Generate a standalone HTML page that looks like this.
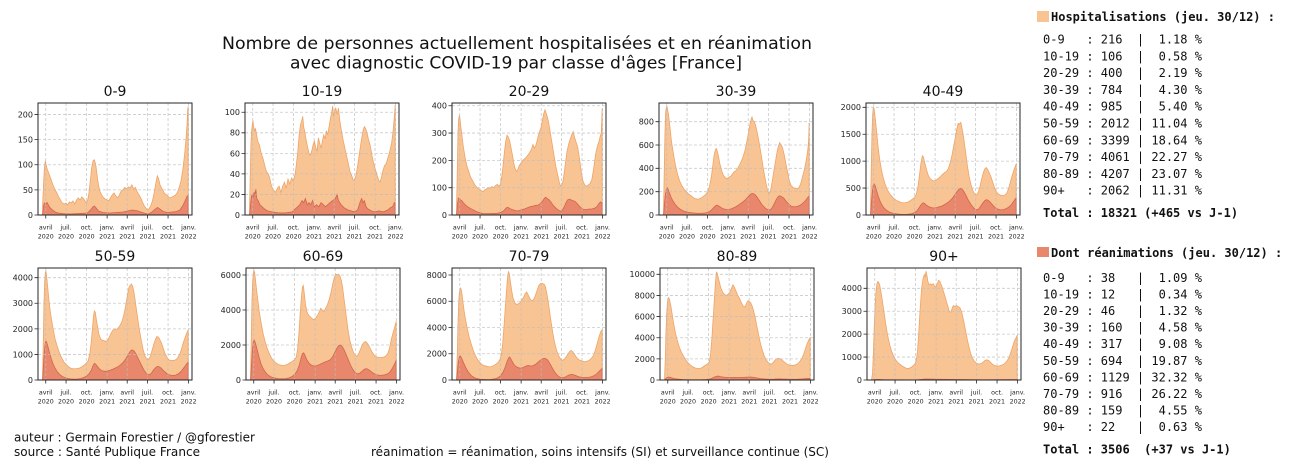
<!DOCTYPE html>
<html><head><meta charset="utf-8">
<style>
html,body{margin:0;padding:0;background:#fff;}
svg{display:block}
.h{fill:#f9c494;stroke:#eea466;stroke-width:0.8}
.r{fill:#e8876b;stroke:#d2654b;stroke-width:0.8}
.g{fill:none;stroke:#bdbdbd;stroke-width:0.8;stroke-dasharray:3 2;opacity:0.8}
.f{fill:none;stroke:#262626;stroke-width:1}
.t{fill:none;stroke:#262626;stroke-width:0.8}
.yl{font-family:"DejaVu Sans","Liberation Sans",sans-serif;font-size:8px;text-anchor:end;fill:#222}
.xl{font-family:"DejaVu Sans","Liberation Sans",sans-serif;font-size:6.3px;text-anchor:middle;fill:#222}
.pt{font-family:"DejaVu Sans","Liberation Sans",sans-serif;font-size:14px;text-anchor:middle;fill:#111}
.ti{font-family:"DejaVu Sans","Liberation Sans",sans-serif;font-size:17px;text-anchor:middle;fill:#111}
.ft{font-family:"DejaVu Sans","Liberation Sans",sans-serif;font-size:12px;fill:#111}
.m{font-family:"DejaVu Sans Mono","Liberation Mono",monospace;font-size:12px;fill:#111;white-space:pre}
.mb{font-family:"DejaVu Sans Mono","Liberation Mono",monospace;font-size:12px;font-weight:bold;fill:#111;white-space:pre}
</style></head>
<body>
<svg width="1291" height="467" viewBox="0 0 1291 467" xmlns="http://www.w3.org/2000/svg">
<rect width="1291" height="467" fill="#fff"/>

<text class="ti" x="517" y="49" textLength="590" lengthAdjust="spacingAndGlyphs">Nombre de personnes actuellement hospitalisées et en réanimation</text>
<text class="ti" x="516" y="68.5" textLength="452" lengthAdjust="spacingAndGlyphs">avec diagnostic COVID-19 par classe d'âges [France]</text>

<!-- 0-9 -->
<g transform="translate(38,103)">
<text class="pt" x="77" y="-7">0-9</text>
<g transform="translate(4.62,112) scale(0.2232,-0.50224)">
<path class="h" vector-effect="non-scaling-stroke" d="M0,0 L0,20 4,60 8,95 12,108 16,100 20,92 26,85 32,78 40,68 48,58 56,50 64,44 72,36 80,30 88,24 96,22 105,24 112,20 120,26 128,24 136,28 144,22 152,30 160,34 168,30 176,36 184,32 190,28 196,24 202,30 208,45 214,70 220,95 226,108 232,110 238,100 244,80 250,60 256,48 264,40 272,35 280,32 289,30 296,28 304,34 312,40 320,44 328,38 336,34 344,40 352,48 360,50 368,55 376,52 384,56 392,54 400,60 408,52 416,55 424,46 432,40 440,34 448,25 456,18 464,13 470,10 476,12 484,18 492,28 500,45 508,65 514,78 520,72 526,60 532,55 540,48 548,42 556,40 564,36 572,34 580,36 588,38 596,40 604,45 612,55 620,68 628,90 636,120 642,150 647,180 650,210 652,216 652,0Z"/>
<path class="r" vector-effect="non-scaling-stroke" d="M0,0 L0,2 4,18 8,24 14,22 20,25 26,20 34,14 44,10 56,6 70,4 90,3 120,2 160,3 200,4 215,10 225,16 232,18 240,14 250,8 270,5 300,4 330,5 360,6 380,8 400,10 420,9 440,6 460,3 475,2 490,6 505,12 515,15 525,12 540,7 560,5 580,6 600,7 615,10 630,20 640,30 648,38 652,38 652,0Z"/>
</g>
<path class="g" d="M7.75 0V112M28.06 0V112M48.59 0V112M69.13 0V112M89.21 0V112M109.52 0V112M130.06 0V112M150.59 0V112M0 86.89H154M0 61.78H154M0 36.66H154M0 11.55H154"/>
<rect class="f" x="0" y="0" width="154" height="112"/>
<path class="t" d="M7.75 112v3.5M28.06 112v3.5M48.59 112v3.5M69.13 112v3.5M89.21 112v3.5M109.52 112v3.5M130.06 112v3.5M150.59 112v3.5M0 112h-3.5M0 86.89h-3.5M0 61.78h-3.5M0 36.66h-3.5M0 11.55h-3.5"/>
<text class="yl" x="-5" y="114.9">0</text><text class="yl" x="-5" y="89.8">50</text><text class="yl" x="-5" y="64.7">100</text><text class="yl" x="-5" y="39.6">150</text><text class="yl" x="-5" y="14.5">200</text>
<text class="xl"><tspan x="7.75" y="126.5">avril</tspan><tspan x="7.75" y="135.5">2020</tspan><tspan x="28.06" y="126.5">juil.</tspan><tspan x="28.06" y="135.5">2020</tspan><tspan x="48.59" y="126.5">oct.</tspan><tspan x="48.59" y="135.5">2020</tspan><tspan x="69.13" y="126.5">janv.</tspan><tspan x="69.13" y="135.5">2021</tspan><tspan x="89.21" y="126.5">avril</tspan><tspan x="89.21" y="135.5">2021</tspan><tspan x="109.52" y="126.5">juil.</tspan><tspan x="109.52" y="135.5">2021</tspan><tspan x="130.06" y="126.5">oct.</tspan><tspan x="130.06" y="135.5">2021</tspan><tspan x="150.59" y="126.5">janv.</tspan><tspan x="150.59" y="135.5">2022</tspan></text>
</g>

<!-- 10-19 -->
<g transform="translate(245,103)">
<text class="pt" x="77" y="-7">10-19</text>
<g transform="translate(4.62,112) scale(0.2232,-1.02752)">
<path class="h" vector-effect="non-scaling-stroke" d="M0,0 L0,10 3,40 6,70 9,82 12,88 15,92 18,86 22,82 26,84 30,80 36,72 44,68 52,60 60,55 68,48 76,42 84,40 90,36 96,30 102,26 108,24 116,22 124,26 132,28 140,22 148,28 156,32 164,26 172,35 180,30 188,36 196,33 204,40 210,50 216,62 222,78 228,88 234,92 238,96 242,86 248,80 254,72 260,66 266,60 272,58 278,62 284,68 290,72 296,66 302,62 308,75 314,70 320,65 326,72 332,78 338,74 344,82 350,78 356,86 362,94 368,100 372,106 376,96 380,100 386,104 392,98 398,104 404,92 410,84 418,74 426,66 434,58 442,50 450,42 458,38 464,34 470,34 476,38 484,48 492,60 500,72 508,82 514,86 520,84 526,80 532,74 540,68 548,58 556,50 564,44 572,38 578,34 584,32 590,36 596,42 604,48 612,50 620,56 628,62 636,70 642,80 647,92 650,100 652,107 652,0Z"/>
<path class="r" vector-effect="non-scaling-stroke" d="M0,0 L0,1 4,10 8,18 12,20 16,18 20,22 24,20 28,25 32,16 38,14 46,10 56,8 66,6 80,4 100,3 130,2 160,2 190,3 205,6 215,8 225,10 235,14 242,12 250,16 258,10 266,12 274,10 282,14 290,8 300,10 310,8 320,12 330,10 340,8 350,10 360,12 372,14 384,16 392,20 398,14 410,10 424,7 440,5 456,4 470,3 484,5 494,12 502,16 508,12 514,14 522,8 530,6 545,4 560,3 580,4 600,3 620,5 630,7 640,8 645,10 648,12 652,12 652,0Z"/>
</g>
<path class="g" d="M7.75 0V112M28.06 0V112M48.59 0V112M69.13 0V112M89.21 0V112M109.52 0V112M130.06 0V112M150.59 0V112M0 91.45H154M0 70.9H154M0 50.35H154M0 29.8H154M0 9.25H154"/>
<rect class="f" x="0" y="0" width="154" height="112"/>
<path class="t" d="M7.75 112v3.5M28.06 112v3.5M48.59 112v3.5M69.13 112v3.5M89.21 112v3.5M109.52 112v3.5M130.06 112v3.5M150.59 112v3.5M0 112h-3.5M0 91.45h-3.5M0 70.9h-3.5M0 50.35h-3.5M0 29.8h-3.5M0 9.25h-3.5"/>
<text class="yl" x="-5" y="114.9">0</text><text class="yl" x="-5" y="94.35">20</text><text class="yl" x="-5" y="73.8">40</text><text class="yl" x="-5" y="53.25">60</text><text class="yl" x="-5" y="32.7">80</text><text class="yl" x="-5" y="12.15">100</text>
<text class="xl"><tspan x="7.75" y="126.5">avril</tspan><tspan x="7.75" y="135.5">2020</tspan><tspan x="28.06" y="126.5">juil.</tspan><tspan x="28.06" y="135.5">2020</tspan><tspan x="48.59" y="126.5">oct.</tspan><tspan x="48.59" y="135.5">2020</tspan><tspan x="69.13" y="126.5">janv.</tspan><tspan x="69.13" y="135.5">2021</tspan><tspan x="89.21" y="126.5">avril</tspan><tspan x="89.21" y="135.5">2021</tspan><tspan x="109.52" y="126.5">juil.</tspan><tspan x="109.52" y="135.5">2021</tspan><tspan x="130.06" y="126.5">oct.</tspan><tspan x="130.06" y="135.5">2021</tspan><tspan x="150.59" y="126.5">janv.</tspan><tspan x="150.59" y="135.5">2022</tspan></text>
</g>

<!-- 20-29 -->
<g transform="translate(452,103)">
<text class="pt" x="77" y="-7">20-29</text>
<g transform="translate(4.62,112) scale(0.2232,-0.27317)">
<path class="h" vector-effect="non-scaling-stroke" d="M0,0 L0,40 3,160 6,300 9,350 12,365 15,355 18,330 24,290 30,250 38,210 46,180 54,160 62,140 72,125 82,110 92,100 100,95 110,90 118,85 126,92 134,95 142,100 150,98 158,104 166,100 174,108 182,112 190,106 196,112 202,140 208,180 214,230 220,270 226,292 232,285 238,270 244,245 250,220 256,190 262,170 268,160 274,165 280,180 288,190 296,200 304,205 312,212 320,220 328,230 336,242 342,258 348,245 354,252 360,270 366,290 372,305 378,320 384,345 390,370 396,385 400,375 406,360 412,340 420,300 428,260 436,220 444,180 452,150 460,120 466,105 472,110 478,130 486,180 494,230 502,260 510,280 516,295 522,305 528,285 534,270 542,250 550,210 558,160 566,125 574,110 582,105 590,110 598,115 606,130 614,170 622,220 630,250 638,270 644,290 648,300 650,340 652,390 652,0Z"/>
<path class="r" vector-effect="non-scaling-stroke" d="M0,0 L0,5 4,40 8,62 12,60 18,55 24,52 30,45 40,36 50,30 62,24 76,18 90,12 105,8 120,5 140,5 160,6 180,6 200,10 212,16 222,26 230,28 238,24 248,20 258,18 268,15 280,16 292,20 304,22 316,26 328,30 340,32 352,35 364,36 376,42 386,52 394,62 400,65 406,60 414,56 422,48 432,36 444,26 456,18 466,14 474,18 482,30 490,45 498,56 506,58 514,55 522,52 530,50 540,42 550,32 560,25 570,20 582,20 594,22 606,22 618,25 628,30 636,40 644,48 648,45 652,46 652,0Z"/>
</g>
<path class="g" d="M7.75 0V112M28.06 0V112M48.59 0V112M69.13 0V112M89.21 0V112M109.52 0V112M130.06 0V112M150.59 0V112M0 84.68H154M0 57.37H154M0 30.05H154M0 2.73H154"/>
<rect class="f" x="0" y="0" width="154" height="112"/>
<path class="t" d="M7.75 112v3.5M28.06 112v3.5M48.59 112v3.5M69.13 112v3.5M89.21 112v3.5M109.52 112v3.5M130.06 112v3.5M150.59 112v3.5M0 112h-3.5M0 84.68h-3.5M0 57.37h-3.5M0 30.05h-3.5M0 2.73h-3.5"/>
<text class="yl" x="-5" y="114.9">0</text><text class="yl" x="-5" y="87.6">100</text><text class="yl" x="-5" y="60.3">200</text><text class="yl" x="-5" y="33">300</text><text class="yl" x="-5" y="5.6">400</text>
<text class="xl"><tspan x="7.75" y="126.5">avril</tspan><tspan x="7.75" y="135.5">2020</tspan><tspan x="28.06" y="126.5">juil.</tspan><tspan x="28.06" y="135.5">2020</tspan><tspan x="48.59" y="126.5">oct.</tspan><tspan x="48.59" y="135.5">2020</tspan><tspan x="69.13" y="126.5">janv.</tspan><tspan x="69.13" y="135.5">2021</tspan><tspan x="89.21" y="126.5">avril</tspan><tspan x="89.21" y="135.5">2021</tspan><tspan x="109.52" y="126.5">juil.</tspan><tspan x="109.52" y="135.5">2021</tspan><tspan x="130.06" y="126.5">oct.</tspan><tspan x="130.06" y="135.5">2021</tspan><tspan x="150.59" y="126.5">janv.</tspan><tspan x="150.59" y="135.5">2022</tspan></text>
</g>

<!-- 30-39 -->
<g transform="translate(659,103)">
<text class="pt" x="77" y="-7">30-39</text>
<g transform="translate(4.62,112) scale(0.2232,-0.116667)">
<path class="h" vector-effect="non-scaling-stroke" d="M0,0 L0,80 3,400 6,700 9,880 12,920 15,930 18,900 22,860 28,760 34,650 40,570 48,480 56,400 64,340 72,290 82,250 92,220 102,200 112,180 122,165 132,150 142,140 152,135 162,140 172,150 182,165 190,180 198,200 206,250 214,330 220,420 226,510 232,560 236,570 240,550 246,500 252,440 260,380 268,340 276,320 284,310 292,325 300,330 308,350 316,370 324,380 332,400 340,430 348,460 356,500 364,550 372,620 380,700 386,770 392,820 396,840 400,810 406,800 412,770 420,700 428,620 436,530 444,430 452,340 460,260 466,210 472,185 478,200 486,280 494,380 502,470 510,560 516,600 520,620 526,600 532,580 540,520 548,440 556,360 564,290 572,250 580,235 590,230 600,225 608,240 616,280 624,340 632,400 640,480 646,560 650,650 652,790 652,0Z"/>
<path class="r" vector-effect="non-scaling-stroke" d="M0,0 L0,10 4,100 8,180 12,220 16,235 20,220 26,190 34,150 42,120 52,90 64,65 78,45 92,32 110,22 130,18 150,15 170,15 190,18 205,28 215,45 225,65 233,80 240,85 248,75 258,62 270,52 282,46 294,48 306,55 318,65 330,78 342,95 354,110 366,130 378,155 388,175 396,185 404,182 412,170 420,150 430,120 440,90 452,65 464,48 474,42 484,55 494,90 504,130 512,155 520,165 528,158 538,145 548,120 560,95 572,75 584,70 596,72 608,80 620,95 632,115 642,140 648,155 652,160 652,0Z"/>
</g>
<path class="g" d="M7.75 0V112M28.06 0V112M48.59 0V112M69.13 0V112M89.21 0V112M109.52 0V112M130.06 0V112M150.59 0V112M0 88.67H154M0 65.33H154M0 42H154M0 18.67H154"/>
<rect class="f" x="0" y="0" width="154" height="112"/>
<path class="t" d="M7.75 112v3.5M28.06 112v3.5M48.59 112v3.5M69.13 112v3.5M89.21 112v3.5M109.52 112v3.5M130.06 112v3.5M150.59 112v3.5M0 112h-3.5M0 88.67h-3.5M0 65.33h-3.5M0 42h-3.5M0 18.67h-3.5"/>
<text class="yl" x="-5" y="114.9">0</text><text class="yl" x="-5" y="91.6">200</text><text class="yl" x="-5" y="68.2">400</text><text class="yl" x="-5" y="44.9">600</text><text class="yl" x="-5" y="21.6">800</text>
<text class="xl"><tspan x="7.75" y="126.5">avril</tspan><tspan x="7.75" y="135.5">2020</tspan><tspan x="28.06" y="126.5">juil.</tspan><tspan x="28.06" y="135.5">2020</tspan><tspan x="48.59" y="126.5">oct.</tspan><tspan x="48.59" y="135.5">2020</tspan><tspan x="69.13" y="126.5">janv.</tspan><tspan x="69.13" y="135.5">2021</tspan><tspan x="89.21" y="126.5">avril</tspan><tspan x="89.21" y="135.5">2021</tspan><tspan x="109.52" y="126.5">juil.</tspan><tspan x="109.52" y="135.5">2021</tspan><tspan x="130.06" y="126.5">oct.</tspan><tspan x="130.06" y="135.5">2021</tspan><tspan x="150.59" y="126.5">janv.</tspan><tspan x="150.59" y="135.5">2022</tspan></text>
</g>

<!-- 40-49 -->
<g transform="translate(866,103)">
<text class="pt" x="77" y="-7">40-49</text>
<g transform="translate(4.62,112) scale(0.2232,-0.053846)">
<path class="h" vector-effect="non-scaling-stroke" d="M0,0 L0,200 3,900 6,1500 9,1850 12,2000 15,1980 18,1900 22,1750 28,1500 34,1250 40,1050 48,850 56,700 66,560 76,460 86,390 96,340 106,300 116,270 126,250 136,235 146,225 156,230 166,240 176,260 186,290 196,320 204,380 212,520 220,780 226,980 232,1100 236,1080 242,980 250,850 258,740 266,680 274,650 284,630 294,650 304,680 314,720 324,760 332,790 340,810 348,860 356,960 364,1100 372,1280 380,1450 386,1600 392,1700 398,1690 404,1720 410,1600 418,1400 426,1150 434,900 442,700 450,560 458,450 466,390 474,370 482,420 490,530 498,680 506,800 512,860 518,880 524,850 532,780 540,700 548,600 556,500 564,430 572,390 582,370 592,360 602,370 612,420 620,520 628,640 636,760 644,860 648,900 652,950 652,0Z"/>
<path class="r" vector-effect="non-scaling-stroke" d="M0,0 L0,30 4,250 8,450 12,560 16,580 20,550 26,460 34,350 44,240 56,150 70,90 86,50 102,30 120,18 140,12 160,12 180,20 196,40 208,80 218,140 226,190 234,225 240,220 248,190 258,160 270,140 282,130 294,135 306,150 318,165 330,190 342,220 354,260 366,310 378,380 388,440 396,480 404,495 412,470 420,420 430,340 440,260 452,180 464,120 474,95 484,110 494,170 504,230 512,270 520,285 528,270 538,230 548,180 560,130 572,105 584,95 596,100 608,120 620,150 632,200 642,260 648,300 652,317 652,0Z"/>
</g>
<path class="g" d="M7.75 0V112M28.06 0V112M48.59 0V112M69.13 0V112M89.21 0V112M109.52 0V112M130.06 0V112M150.59 0V112M0 85.08H154M0 58.15H154M0 31.23H154M0 4.31H154"/>
<rect class="f" x="0" y="0" width="154" height="112"/>
<path class="t" d="M7.75 112v3.5M28.06 112v3.5M48.59 112v3.5M69.13 112v3.5M89.21 112v3.5M109.52 112v3.5M130.06 112v3.5M150.59 112v3.5M0 112h-3.5M0 85.08h-3.5M0 58.15h-3.5M0 31.23h-3.5M0 4.31h-3.5"/>
<text class="yl" x="-5" y="114.9">0</text><text class="yl" x="-5" y="88">500</text><text class="yl" x="-5" y="61">1000</text><text class="yl" x="-5" y="34.1">1500</text><text class="yl" x="-5" y="7.2">2000</text>
<text class="xl"><tspan x="7.75" y="126.5">avril</tspan><tspan x="7.75" y="135.5">2020</tspan><tspan x="28.06" y="126.5">juil.</tspan><tspan x="28.06" y="135.5">2020</tspan><tspan x="48.59" y="126.5">oct.</tspan><tspan x="48.59" y="135.5">2020</tspan><tspan x="69.13" y="126.5">janv.</tspan><tspan x="69.13" y="135.5">2021</tspan><tspan x="89.21" y="126.5">avril</tspan><tspan x="89.21" y="135.5">2021</tspan><tspan x="109.52" y="126.5">juil.</tspan><tspan x="109.52" y="135.5">2021</tspan><tspan x="130.06" y="126.5">oct.</tspan><tspan x="130.06" y="135.5">2021</tspan><tspan x="150.59" y="126.5">janv.</tspan><tspan x="150.59" y="135.5">2022</tspan></text>
</g>

<!-- 50-59 -->
<g transform="translate(38,268)">
<text class="pt" x="77" y="-7">50-59</text>
<g transform="translate(4.62,112) scale(0.2232,-0.025577)">
<path class="h" vector-effect="non-scaling-stroke" d="M0,0 L0,300 3,1500 6,3000 9,3800 12,4200 15,4250 18,4050 22,3700 28,3150 34,2700 40,2350 48,1950 56,1600 66,1300 76,1050 86,850 96,700 106,600 116,520 126,460 136,440 146,440 156,450 166,470 176,520 186,580 196,660 204,750 212,1050 218,1500 224,2100 228,2500 232,2700 236,2650 240,2400 246,2100 252,1800 260,1600 268,1550 276,1540 284,1500 292,1560 300,1700 308,1850 316,1960 324,2000 332,1980 340,2050 348,2150 356,2300 364,2550 372,2900 380,3300 386,3600 392,3700 398,3750 404,3650 410,3400 418,2900 426,2400 434,1950 442,1550 450,1200 458,950 466,820 474,800 482,900 490,1150 498,1400 506,1600 512,1700 518,1680 524,1600 532,1450 540,1250 548,1050 556,900 564,800 574,760 584,760 594,780 604,850 614,1000 622,1200 630,1450 638,1650 644,1800 648,1880 652,1950 652,0Z"/>
<path class="r" vector-effect="non-scaling-stroke" d="M0,0 L0,40 4,600 8,1150 12,1450 15,1520 18,1480 24,1300 30,1100 38,850 46,650 56,460 66,320 78,200 92,120 108,70 124,45 140,35 156,40 172,60 186,100 198,160 208,240 218,380 226,560 232,650 238,620 246,520 256,420 266,360 278,340 290,350 302,380 314,420 326,470 338,520 350,600 362,700 374,850 384,1000 392,1120 400,1180 408,1150 416,1050 426,880 436,700 446,520 456,360 466,240 476,200 486,250 496,380 506,480 514,530 522,520 530,470 540,380 550,300 560,230 572,190 584,180 596,190 608,240 620,330 630,450 640,560 646,640 652,694 652,0Z"/>
</g>
<path class="g" d="M7.75 0V112M28.06 0V112M48.59 0V112M69.13 0V112M89.21 0V112M109.52 0V112M130.06 0V112M150.59 0V112M0 86.42H154M0 60.85H154M0 35.27H154M0 9.69H154"/>
<rect class="f" x="0" y="0" width="154" height="112"/>
<path class="t" d="M7.75 112v3.5M28.06 112v3.5M48.59 112v3.5M69.13 112v3.5M89.21 112v3.5M109.52 112v3.5M130.06 112v3.5M150.59 112v3.5M0 112h-3.5M0 86.42h-3.5M0 60.85h-3.5M0 35.27h-3.5M0 9.69h-3.5"/>
<text class="yl" x="-5" y="114.9">0</text><text class="yl" x="-5" y="89.3">1000</text><text class="yl" x="-5" y="63.8">2000</text><text class="yl" x="-5" y="38.2">3000</text><text class="yl" x="-5" y="12.6">4000</text>
<text class="xl"><tspan x="7.75" y="126.5">avril</tspan><tspan x="7.75" y="135.5">2020</tspan><tspan x="28.06" y="126.5">juil.</tspan><tspan x="28.06" y="135.5">2020</tspan><tspan x="48.59" y="126.5">oct.</tspan><tspan x="48.59" y="135.5">2020</tspan><tspan x="69.13" y="126.5">janv.</tspan><tspan x="69.13" y="135.5">2021</tspan><tspan x="89.21" y="126.5">avril</tspan><tspan x="89.21" y="135.5">2021</tspan><tspan x="109.52" y="126.5">juil.</tspan><tspan x="109.52" y="135.5">2021</tspan><tspan x="130.06" y="126.5">oct.</tspan><tspan x="130.06" y="135.5">2021</tspan><tspan x="150.59" y="126.5">janv.</tspan><tspan x="150.59" y="135.5">2022</tspan></text>
</g>

<!-- 60-69 -->
<g transform="translate(246,268)">
<text class="pt" x="77" y="-7">60-69</text>
<g transform="translate(4.62,112) scale(0.2232,-0.0175)">
<path class="h" vector-effect="non-scaling-stroke" d="M0,0 L0,400 3,2500 6,4500 9,5600 12,6100 15,6250 18,6150 22,5700 28,5000 34,4400 40,3800 48,3200 56,2650 66,2150 76,1750 86,1450 96,1200 106,1050 116,950 126,880 136,850 146,830 156,850 166,900 176,980 186,1060 196,1150 204,1300 210,1700 216,2600 222,3800 228,4800 232,5300 236,5400 240,5000 246,4300 252,3900 260,3700 268,3600 276,3500 284,3450 292,3550 300,3700 308,3900 314,4100 320,4000 328,3900 336,4100 344,4300 352,4600 360,5000 368,5500 376,5900 382,6050 388,6000 394,6050 400,5950 406,5700 412,5300 420,4500 428,3700 436,2900 444,2300 452,1900 460,1600 468,1400 476,1350 484,1500 492,1750 500,2000 508,2150 514,2200 520,2150 528,2000 536,1800 544,1600 552,1450 560,1350 570,1300 582,1280 594,1300 604,1350 614,1500 622,1800 630,2300 638,2700 644,2950 648,3150 652,3350 652,0Z"/>
<path class="r" vector-effect="non-scaling-stroke" d="M0,0 L0,60 4,900 8,1700 12,2200 15,2300 18,2250 24,2000 30,1700 38,1300 46,950 56,650 66,450 78,280 92,170 108,110 124,80 140,70 156,80 172,120 186,200 198,330 208,520 218,850 226,1250 232,1500 238,1550 244,1400 252,1150 262,950 272,850 284,800 296,820 308,880 320,950 332,1020 344,1080 356,1150 366,1300 376,1550 386,1800 394,1950 402,2000 410,1920 418,1750 428,1450 438,1150 448,850 458,600 468,420 478,350 488,380 498,480 508,600 516,650 524,630 532,560 542,460 552,370 564,300 576,270 588,270 600,290 612,340 624,450 634,650 642,850 648,1000 652,1129 652,0Z"/>
</g>
<path class="g" d="M7.75 0V112M28.06 0V112M48.59 0V112M69.13 0V112M89.21 0V112M109.52 0V112M130.06 0V112M150.59 0V112M0 77H154M0 42H154M0 7H154"/>
<rect class="f" x="0" y="0" width="154" height="112"/>
<path class="t" d="M7.75 112v3.5M28.06 112v3.5M48.59 112v3.5M69.13 112v3.5M89.21 112v3.5M109.52 112v3.5M130.06 112v3.5M150.59 112v3.5M0 112h-3.5M0 77h-3.5M0 42h-3.5M0 7h-3.5"/>
<text class="yl" x="-5" y="114.9">0</text><text class="yl" x="-5" y="79.9">2000</text><text class="yl" x="-5" y="44.9">4000</text><text class="yl" x="-5" y="9.9">6000</text>
<text class="xl"><tspan x="7.75" y="126.5">avril</tspan><tspan x="7.75" y="135.5">2020</tspan><tspan x="28.06" y="126.5">juil.</tspan><tspan x="28.06" y="135.5">2020</tspan><tspan x="48.59" y="126.5">oct.</tspan><tspan x="48.59" y="135.5">2020</tspan><tspan x="69.13" y="126.5">janv.</tspan><tspan x="69.13" y="135.5">2021</tspan><tspan x="89.21" y="126.5">avril</tspan><tspan x="89.21" y="135.5">2021</tspan><tspan x="109.52" y="126.5">juil.</tspan><tspan x="109.52" y="135.5">2021</tspan><tspan x="130.06" y="126.5">oct.</tspan><tspan x="130.06" y="135.5">2021</tspan><tspan x="150.59" y="126.5">janv.</tspan><tspan x="150.59" y="135.5">2022</tspan></text>
</g>

<!-- 70-79 -->
<g transform="translate(452,268)">
<text class="pt" x="77" y="-7">70-79</text>
<g transform="translate(4.62,112) scale(0.2232,-0.013125)">
<path class="h" vector-effect="non-scaling-stroke" d="M0,0 L0,300 3,2000 6,4200 9,5800 12,6600 15,6900 18,7000 22,6800 28,6000 34,5200 40,4600 48,3900 56,3300 66,2700 76,2200 86,1800 96,1500 106,1300 116,1150 126,1080 136,1050 146,1000 156,1020 166,1100 176,1200 186,1350 194,1550 200,1900 206,2700 212,4000 218,5500 224,6900 228,7800 232,8250 236,8100 240,7600 246,6900 252,6300 260,5900 268,5750 276,5800 284,5900 292,6100 300,6300 308,6600 314,6700 320,6500 328,6200 336,6050 344,6100 352,6400 360,6800 368,7200 376,7350 384,7350 392,7300 398,7100 404,6600 412,5800 420,4800 428,3900 436,3100 444,2500 452,2050 460,1750 468,1550 476,1500 484,1600 492,1800 500,2000 508,2200 514,2250 520,2150 528,1950 536,1750 544,1600 552,1500 562,1450 572,1400 582,1420 594,1500 604,1650 614,1900 622,2300 630,2800 638,3300 644,3600 648,3750 652,3800 652,0Z"/>
<path class="r" vector-effect="non-scaling-stroke" d="M0,0 L0,60 4,700 8,1400 12,1750 15,1850 18,1800 24,1600 30,1350 38,1050 46,780 56,520 66,330 78,190 92,100 108,60 124,45 140,40 156,50 172,90 186,180 198,350 208,600 218,1000 226,1400 232,1650 236,1750 240,1700 248,1450 256,1200 264,1050 274,950 284,900 294,920 304,1000 314,1080 324,1100 334,1060 344,1100 354,1200 364,1350 374,1500 384,1600 392,1650 400,1620 408,1520 416,1300 426,1000 436,700 446,450 456,280 466,180 476,170 486,220 496,320 506,400 514,430 522,410 532,350 542,280 552,230 564,200 576,190 588,200 600,230 612,300 624,420 634,580 642,720 648,820 652,900 652,0Z"/>
</g>
<path class="g" d="M7.75 0V112M28.06 0V112M48.59 0V112M69.13 0V112M89.21 0V112M109.52 0V112M130.06 0V112M150.59 0V112M0 85.75H154M0 59.5H154M0 33.25H154M0 7H154"/>
<rect class="f" x="0" y="0" width="154" height="112"/>
<path class="t" d="M7.75 112v3.5M28.06 112v3.5M48.59 112v3.5M69.13 112v3.5M89.21 112v3.5M109.52 112v3.5M130.06 112v3.5M150.59 112v3.5M0 112h-3.5M0 85.75h-3.5M0 59.5h-3.5M0 33.25h-3.5M0 7h-3.5"/>
<text class="yl" x="-5" y="114.9">0</text><text class="yl" x="-5" y="88.6">2000</text><text class="yl" x="-5" y="62.4">4000</text><text class="yl" x="-5" y="36.1">6000</text><text class="yl" x="-5" y="9.9">8000</text>
<text class="xl"><tspan x="7.75" y="126.5">avril</tspan><tspan x="7.75" y="135.5">2020</tspan><tspan x="28.06" y="126.5">juil.</tspan><tspan x="28.06" y="135.5">2020</tspan><tspan x="48.59" y="126.5">oct.</tspan><tspan x="48.59" y="135.5">2020</tspan><tspan x="69.13" y="126.5">janv.</tspan><tspan x="69.13" y="135.5">2021</tspan><tspan x="89.21" y="126.5">avril</tspan><tspan x="89.21" y="135.5">2021</tspan><tspan x="109.52" y="126.5">juil.</tspan><tspan x="109.52" y="135.5">2021</tspan><tspan x="130.06" y="126.5">oct.</tspan><tspan x="130.06" y="135.5">2021</tspan><tspan x="150.59" y="126.5">janv.</tspan><tspan x="150.59" y="135.5">2022</tspan></text>
</g>

<!-- 80-89 -->
<g transform="translate(660,268)">
<text class="pt" x="77" y="-7">80-89</text>
<g transform="translate(4.62,112) scale(0.2232,-0.01057)">
<path class="h" vector-effect="non-scaling-stroke" d="M0,0 L0,300 3,2000 6,4500 9,6200 12,7200 15,7700 18,7800 22,7600 28,7000 34,6200 40,5400 48,4500 56,3800 66,3100 76,2600 86,2200 96,1850 106,1600 116,1400 126,1250 136,1150 146,1100 156,1080 166,1150 176,1300 186,1450 194,1550 200,1700 206,2500 212,4000 218,6000 224,8000 228,9300 232,10200 236,10100 240,9700 246,9200 252,8700 260,8300 268,8100 276,8000 284,8100 292,8300 300,8700 306,9000 312,8800 320,8400 328,8000 336,7700 344,7300 352,7000 360,6900 368,7300 374,7500 380,7400 386,7300 392,7000 398,6600 406,5900 414,5000 422,4200 430,3400 438,2800 446,2300 454,1950 462,1700 470,1550 478,1500 486,1650 494,1850 502,2000 510,2050 518,2000 526,1900 534,1750 542,1600 552,1450 562,1400 572,1380 582,1400 594,1500 604,1700 614,2000 622,2400 630,2900 638,3400 644,3700 648,3900 652,4000 652,0Z"/>
<path class="r" vector-effect="non-scaling-stroke" d="M0,0 L0,20 6,150 12,250 18,280 26,240 36,180 48,120 62,80 80,50 100,30 130,20 160,20 185,40 205,100 220,250 232,350 240,370 250,320 265,270 285,240 310,230 340,240 370,270 385,280 400,250 415,190 430,130 450,90 470,70 490,80 510,100 530,90 550,75 575,70 600,80 620,110 635,140 648,155 652,159 652,0Z"/>
</g>
<path class="g" d="M7.75 0V112M28.06 0V112M48.59 0V112M69.13 0V112M89.21 0V112M109.52 0V112M130.06 0V112M150.59 0V112M0 90.86H154M0 69.72H154M0 48.58H154M0 27.44H154M0 6.3H154"/>
<rect class="f" x="0" y="0" width="154" height="112"/>
<path class="t" d="M7.75 112v3.5M28.06 112v3.5M48.59 112v3.5M69.13 112v3.5M89.21 112v3.5M109.52 112v3.5M130.06 112v3.5M150.59 112v3.5M0 112h-3.5M0 90.86h-3.5M0 69.72h-3.5M0 48.58h-3.5M0 27.44h-3.5M0 6.3h-3.5"/>
<text class="yl" x="-5" y="114.9">0</text><text class="yl" x="-5" y="93.8">2000</text><text class="yl" x="-5" y="72.6">4000</text><text class="yl" x="-5" y="51.5">6000</text><text class="yl" x="-5" y="30.3">8000</text><text class="yl" x="-5" y="9.2">10000</text>
<text class="xl"><tspan x="7.75" y="126.5">avril</tspan><tspan x="7.75" y="135.5">2020</tspan><tspan x="28.06" y="126.5">juil.</tspan><tspan x="28.06" y="135.5">2020</tspan><tspan x="48.59" y="126.5">oct.</tspan><tspan x="48.59" y="135.5">2020</tspan><tspan x="69.13" y="126.5">janv.</tspan><tspan x="69.13" y="135.5">2021</tspan><tspan x="89.21" y="126.5">avril</tspan><tspan x="89.21" y="135.5">2021</tspan><tspan x="109.52" y="126.5">juil.</tspan><tspan x="109.52" y="135.5">2021</tspan><tspan x="130.06" y="126.5">oct.</tspan><tspan x="130.06" y="135.5">2021</tspan><tspan x="150.59" y="126.5">janv.</tspan><tspan x="150.59" y="135.5">2022</tspan></text>
</g>

<!-- 90+ -->
<g transform="translate(867,268)">
<text class="pt" x="77" y="-7">90+</text>
<g transform="translate(4.62,112) scale(0.2232,-0.022918)">
<path class="h" vector-effect="non-scaling-stroke" d="M0,0 L0,30 4,300 8,1200 12,2400 16,3300 20,3900 24,4200 28,4300 32,4250 36,4150 40,3950 46,3600 52,3200 58,2800 64,2400 70,2050 76,1750 82,1500 90,1250 98,1050 106,900 114,800 122,720 130,660 138,600 146,560 154,520 162,500 170,520 178,560 186,620 194,700 200,850 206,1300 212,2200 218,3200 224,4000 230,4400 236,4600 240,4500 244,4750 248,4550 252,4300 258,4150 264,4200 270,4150 276,4200 282,4100 288,4050 294,4200 300,4350 306,4300 312,4150 318,4000 324,3800 330,3600 336,3400 342,3200 348,3000 354,2950 360,3100 366,3250 372,3200 380,3250 388,3200 396,3150 404,2950 412,2600 420,2200 428,1800 436,1450 444,1150 452,950 460,820 468,750 476,700 484,700 492,720 500,780 508,850 516,880 524,850 532,780 540,700 548,650 556,620 564,600 574,620 584,650 594,700 604,800 614,950 622,1150 630,1400 638,1650 644,1800 648,1850 652,1950 652,0Z"/>
<path class="r" vector-effect="non-scaling-stroke" d="M0,0 L0,0 10,20 30,25 60,10 200,5 240,40 300,30 400,20 500,10 652,22 652,0Z"/>
</g>
<path class="g" d="M7.75 0V112M28.06 0V112M48.59 0V112M69.13 0V112M89.21 0V112M109.52 0V112M130.06 0V112M150.59 0V112M0 89.08H154M0 66.16H154M0 43.25H154M0 20.33H154"/>
<rect class="f" x="0" y="0" width="154" height="112"/>
<path class="t" d="M7.75 112v3.5M28.06 112v3.5M48.59 112v3.5M69.13 112v3.5M89.21 112v3.5M109.52 112v3.5M130.06 112v3.5M150.59 112v3.5M0 112h-3.5M0 89.08h-3.5M0 66.16h-3.5M0 43.25h-3.5M0 20.33h-3.5"/>
<text class="yl" x="-5" y="114.9">0</text><text class="yl" x="-5" y="92">1000</text><text class="yl" x="-5" y="69.1">2000</text><text class="yl" x="-5" y="46.2">3000</text><text class="yl" x="-5" y="23.2">4000</text>
<text class="xl"><tspan x="7.75" y="126.5">avril</tspan><tspan x="7.75" y="135.5">2020</tspan><tspan x="28.06" y="126.5">juil.</tspan><tspan x="28.06" y="135.5">2020</tspan><tspan x="48.59" y="126.5">oct.</tspan><tspan x="48.59" y="135.5">2020</tspan><tspan x="69.13" y="126.5">janv.</tspan><tspan x="69.13" y="135.5">2021</tspan><tspan x="89.21" y="126.5">avril</tspan><tspan x="89.21" y="135.5">2021</tspan><tspan x="109.52" y="126.5">juil.</tspan><tspan x="109.52" y="135.5">2021</tspan><tspan x="130.06" y="126.5">oct.</tspan><tspan x="130.06" y="135.5">2021</tspan><tspan x="150.59" y="126.5">janv.</tspan><tspan x="150.59" y="135.5">2022</tspan></text>
</g>

<!-- footer -->
<text class="ft" x="14" y="441.5" textLength="241" lengthAdjust="spacingAndGlyphs">auteur : Germain Forestier / @gforestier</text>
<text class="ft" x="14" y="456" textLength="186" lengthAdjust="spacingAndGlyphs">source : Santé Publique France</text>
<text class="ft" x="371" y="456" textLength="458" lengthAdjust="spacingAndGlyphs">réanimation = réanimation, soins intensifs (SI) et surveillance continue (SC)</text>

<!-- right panel block 1 -->
<rect x="1037" y="11" width="12" height="11" fill="#f9c494"/>
<text class="mb" x="1051" y="21" xml:space="preserve">Hospitalisations (jeu. 30/12) :</text>
<text class="m" x="1043" y="43.5" xml:space="preserve">0-9   : 216  |  1.18 %</text>
<text class="m" x="1043" y="60.3" xml:space="preserve">10-19 : 106  |  0.58 %</text>
<text class="m" x="1043" y="77.1" xml:space="preserve">20-29 : 400  |  2.19 %</text>
<text class="m" x="1043" y="93.9" xml:space="preserve">30-39 : 784  |  4.30 %</text>
<text class="m" x="1043" y="110.7" xml:space="preserve">40-49 : 985  |  5.40 %</text>
<text class="m" x="1043" y="127.5" xml:space="preserve">50-59 : 2012 | 11.04 %</text>
<text class="m" x="1043" y="144.3" xml:space="preserve">60-69 : 3399 | 18.64 %</text>
<text class="m" x="1043" y="161.1" xml:space="preserve">70-79 : 4061 | 22.27 %</text>
<text class="m" x="1043" y="177.9" xml:space="preserve">80-89 : 4207 | 23.07 %</text>
<text class="m" x="1043" y="194.7" xml:space="preserve">90+   : 2062 | 11.31 %</text>
<text class="mb" x="1043" y="217" xml:space="preserve">Total : 18321 (+465 vs J-1)</text>

<!-- right panel block 2 -->
<rect x="1037" y="247" width="12" height="10" fill="#e8876b"/>
<text class="mb" x="1051" y="257" xml:space="preserve">Dont réanimations (jeu. 30/12) :</text>
<text class="m" x="1043" y="282" xml:space="preserve">0-9   : 38   |  1.09 %</text>
<text class="m" x="1043" y="298.6" xml:space="preserve">10-19 : 12   |  0.34 %</text>
<text class="m" x="1043" y="315.1" xml:space="preserve">20-29 : 46   |  1.32 %</text>
<text class="m" x="1043" y="331.7" xml:space="preserve">30-39 : 160  |  4.58 %</text>
<text class="m" x="1043" y="348.2" xml:space="preserve">40-49 : 317  |  9.08 %</text>
<text class="m" x="1043" y="364.8" xml:space="preserve">50-59 : 694  | 19.87 %</text>
<text class="m" x="1043" y="381.4" xml:space="preserve">60-69 : 1129 | 32.32 %</text>
<text class="m" x="1043" y="397.9" xml:space="preserve">70-79 : 916  | 26.22 %</text>
<text class="m" x="1043" y="414.5" xml:space="preserve">80-89 : 159  |  4.55 %</text>
<text class="m" x="1043" y="431" xml:space="preserve">90+   : 22   |  0.63 %</text>
<text class="mb" x="1043" y="453.5" xml:space="preserve">Total : 3506  (+37 vs J-1)</text>
</svg>
</body></html>
